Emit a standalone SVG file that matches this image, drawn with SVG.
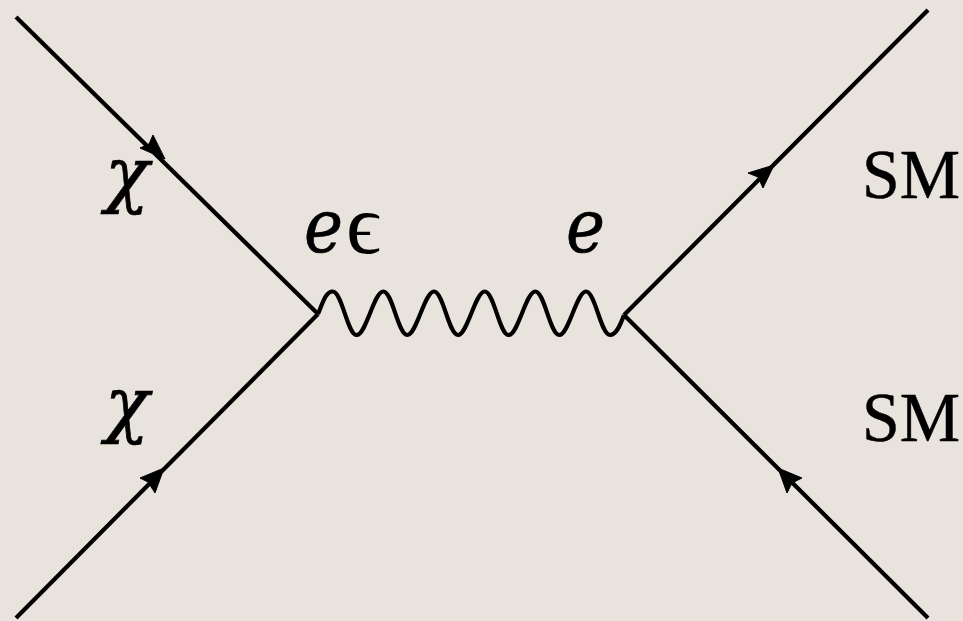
<svg xmlns="http://www.w3.org/2000/svg" width="963" height="621" viewBox="0 0 963 621">
<style>
.l{fill:none;stroke:#000;stroke-width:4.200;stroke-linecap:butt;stroke-linejoin:round}
.a{fill:#000;stroke:#000;stroke-width:1;stroke-linejoin:round}
.m{font-family:"DejaVu Serif",serif;font-style:italic;fill:#000;stroke:#000;stroke-width:.7}
.s{font-family:"Liberation Serif",serif;font-size:70px;fill:#000;stroke:#000;stroke-width:.5}
</style>
<rect width="963" height="621" fill="#e8e4dd"/>
<g id="connectors">
<path class="l" d="M16 17L318 314"/>
<path class="l" d="M16 618L318 314"/>
<path class="l" d="M928 10L624 315"/>
<path class="l" d="M928 618L624 315"/>
<path class="l" d="M318 314C323 302 326 291.500 332.700 291.500C342 291.500 347.500 335 356.700 335C366 335 374 291.500 383.300 291.500C392.500 291.500 398 335 407.300 335C416.500 335 424.700 291.500 434 291.500C443.200 291.500 448.800 335 458 335C467.200 335 475.500 291.500 484.700 291.500C494 291.500 499.500 335 508.700 335C518 335 526 291.500 535.300 291.500C544.500 291.500 550 335 559.300 335C568.500 335 576.800 291.500 586 291.500C595.200 291.500 600.800 335 610 335C616 335 620 326 624 315"/>
<path class="a" d="M165 159L140 148L149 144L153 135Z"/>
<path class="a" d="M164 468L140 478L148 482L155 493Z"/>
<path class="a" d="M774 165L748 173L758 177L763 188Z"/>
<path class="a" d="M778 468L802 478L792 483L787 493Z"/>
</g>
<g id="label-chi-top"><text class="m" x="105" y="199" font-size="72" textLength="44" lengthAdjust="spacingAndGlyphs">χ</text></g>
<g id="label-chi-bottom"><text class="m" x="105" y="429" font-size="72" textLength="44" lengthAdjust="spacingAndGlyphs">χ</text></g>
<g id="label-e-epsilon"><text class="m" x="304" y="252" font-size="75" textLength="39" lengthAdjust="spacingAndGlyphs">e</text><text x="346" y="253" font-family="Liberation Serif,serif" font-size="84" textLength="35" lengthAdjust="spacingAndGlyphs">ϵ</text></g>
<g id="label-e"><text class="m" x="566" y="252" font-size="75" textLength="39" lengthAdjust="spacingAndGlyphs">e</text></g>
<g id="label-sm-top"><text class="s" x="862" y="198" textLength="98" lengthAdjust="spacingAndGlyphs">SM</text></g>
<g id="label-sm-bottom"><text class="s" x="862" y="441" textLength="98" lengthAdjust="spacingAndGlyphs">SM</text></g>
</svg>
